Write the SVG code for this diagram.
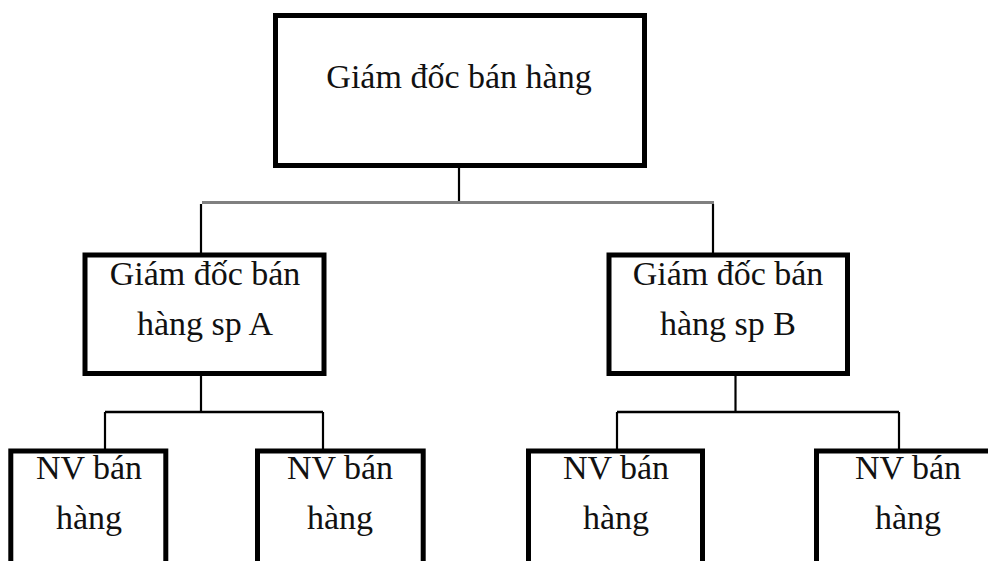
<svg xmlns="http://www.w3.org/2000/svg" width="988" height="561" viewBox="0 0 988 561">
  <style>
    .box { fill: #ffffff; stroke: #000000; stroke-width: 5; }
    .lbl { font-family: "Liberation Serif", "Times New Roman", serif; font-size: 34px; fill: #111111; text-anchor: middle; }
    .link { stroke: #000000; stroke-width: 2.2; fill: none; }
    .bus { stroke: #000000; stroke-width: 2.6; fill: none; }
    .bus-top { stroke: #808080; stroke-width: 3; fill: none; }
  </style>
  <rect width="988" height="561" fill="#ffffff"/>

  <!-- connectors -->
  <g id="connectors">
    <line class="link" x1="459" y1="168" x2="459" y2="201"/>
    <line class="bus-top" x1="202" y1="202.5" x2="714" y2="202.5"/>
    <line class="link" x1="201" y1="204" x2="201" y2="253"/>
    <line class="link" x1="713" y1="204" x2="713" y2="253"/>

    <line class="link" x1="201" y1="376" x2="201" y2="412"/>
    <line class="bus" x1="105" y1="412" x2="323" y2="412"/>
    <line class="link" x1="105" y1="412" x2="105" y2="449"/>
    <line class="link" x1="323" y1="412" x2="323" y2="449"/>

    <line class="link" x1="735.5" y1="376" x2="735.5" y2="412"/>
    <line class="bus" x1="617" y1="412" x2="899" y2="412"/>
    <line class="link" x1="617" y1="412" x2="617" y2="449"/>
    <line class="link" x1="899" y1="412" x2="899" y2="449"/>
  </g>

  <!-- sales director -->
  <g id="giam-doc">
    <rect class="box" x="275.5" y="15.5" width="369" height="150"/>
    <text class="lbl" x="459" y="88">Giám đốc bán hàng</text>
  </g>

  <!-- product A director -->
  <g id="giam-doc-a">
    <rect class="box" x="85" y="255" width="239" height="118.5"/>
    <text class="lbl" x="205" y="285">Giám đốc bán</text>
    <text class="lbl" x="205" y="335">hàng sp A</text>
  </g>

  <!-- product B director -->
  <g id="giam-doc-b">
    <rect class="box" x="609" y="255" width="238.5" height="118.5"/>
    <text class="lbl" x="728" y="285">Giám đốc bán</text>
    <text class="lbl" x="728" y="335">hàng sp B</text>
  </g>

  <!-- sales staff -->
  <g id="nv-1">
    <rect class="box" x="10.8" y="451" width="155" height="200"/>
    <text class="lbl" x="89" y="479">NV bán</text>
    <text class="lbl" x="89" y="529">hàng</text>
  </g>
  <g id="nv-2">
    <rect class="box" x="257.5" y="451" width="165.7" height="200"/>
    <text class="lbl" x="340" y="479">NV bán</text>
    <text class="lbl" x="340" y="529">hàng</text>
  </g>
  <g id="nv-3">
    <rect class="box" x="528.5" y="451" width="174" height="200"/>
    <text class="lbl" x="616" y="479">NV bán</text>
    <text class="lbl" x="616" y="529">hàng</text>
  </g>
  <g id="nv-4">
    <rect class="box" x="816.5" y="451" width="185" height="200"/>
    <text class="lbl" x="908" y="479">NV bán</text>
    <text class="lbl" x="908" y="529">hàng</text>
  </g>
</svg>
